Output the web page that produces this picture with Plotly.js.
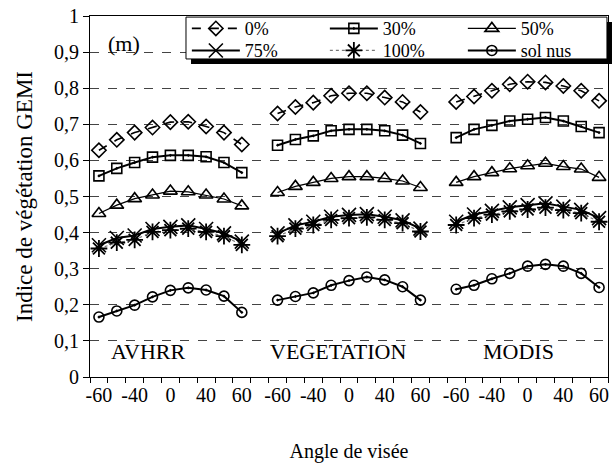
<!DOCTYPE html>
<html>
<head>
<meta charset="utf-8">
<script src="https://cdn.plot.ly/plotly-3.0.1.min.js"></script>
<style>html,body{margin:0;padding:0;background:#fff;}#chart{width:613px;height:470px;}</style>
</head>
<body>
<div id="chart"></div>
<script>
// ---- data ----
const panels = ['AVHRR', 'VEGETATION', 'MODIS'];
const angleLabels = ['-60', '-40', '0', '40', '60']; // shown on every other category
const seriesNames = ['0%', '30%', '50%', '75%', '100%', 'sol nus'];

// values per panel: [AVHRR], [VEGETATION], [MODIS]; 9 viewing angles each
const gemi0 = [
  [0.628, 0.657, 0.677, 0.691, 0.706, 0.707, 0.694, 0.677, 0.644],
  [0.730, 0.748, 0.760, 0.779, 0.786, 0.786, 0.774, 0.762, 0.734],
  [0.762, 0.777, 0.793, 0.811, 0.818, 0.816, 0.806, 0.793, 0.765]
];
const gemi30 = [
  [0.557, 0.578, 0.594, 0.609, 0.614, 0.614, 0.610, 0.594, 0.566],
  [0.642, 0.658, 0.668, 0.682, 0.686, 0.686, 0.682, 0.670, 0.647],
  [0.663, 0.686, 0.697, 0.709, 0.714, 0.719, 0.709, 0.694, 0.677]
];
const gemi50 = [
  [0.453, 0.476, 0.494, 0.504, 0.515, 0.513, 0.504, 0.493, 0.474],
  [0.511, 0.528, 0.539, 0.550, 0.555, 0.555, 0.550, 0.543, 0.525],
  [0.539, 0.555, 0.566, 0.577, 0.585, 0.592, 0.583, 0.576, 0.553]
];
const gemi75 = [
  [0.365, 0.385, 0.392, 0.410, 0.416, 0.420, 0.410, 0.398, 0.375],
  [0.398, 0.420, 0.430, 0.444, 0.449, 0.451, 0.444, 0.434, 0.411],
  [0.430, 0.450, 0.460, 0.470, 0.476, 0.481, 0.472, 0.463, 0.440]
];
const gemi100 = [
  [0.356, 0.372, 0.380, 0.402, 0.407, 0.411, 0.402, 0.390, 0.366],
  [0.390, 0.411, 0.421, 0.435, 0.440, 0.442, 0.435, 0.426, 0.403],
  [0.421, 0.440, 0.450, 0.459, 0.464, 0.469, 0.462, 0.454, 0.430]
];
const gemiSol = [
  [0.166, 0.183, 0.199, 0.222, 0.240, 0.247, 0.241, 0.224, 0.179],
  [0.213, 0.223, 0.233, 0.254, 0.267, 0.277, 0.269, 0.250, 0.213],
  [0.243, 0.254, 0.272, 0.287, 0.307, 0.312, 0.307, 0.287, 0.248]
];

// ---- styles ----
const FONT = 'Liberation Serif';
const styles = [
  {symbol: 'diamond-open', size: 11, line: {color: '#000', width: 1.6, dash: 'dash'}},
  {symbol: 'square-open-dot', size: 10, line: {color: '#000', width: 2}},
  {symbol: 'triangle-up-open', size: 12, line: {color: '#000', width: 1.2}},
  {symbol: 'x-thin-open', size: 14, line: {color: '#000', width: 2}},
  {symbol: 'asterisk-open', size: 14, line: {color: '#777', width: 1.2, dash: 'dot'}},
  {symbol: 'circle-open-dot', size: 10, line: {color: '#000', width: 2}}
];
const allSeries = [gemi0, gemi30, gemi50, gemi75, gemi100, gemiSol];
const nPts = 9;
const slot = nPts + 1; // one empty category between panels

const traces = allSeries.map((ser, s) => {
  const x = [], y = [];
  ser.forEach((vals, p) => {
    vals.forEach((v, i) => { x.push(p * slot + i); y.push(v); });
    if (p < ser.length - 1) { x.push(p * slot + nPts); y.push(null); }
  });
  return {
    type: 'scatter', mode: 'lines+markers', name: seriesNames[s], x, y,
    connectgaps: false, legend: s < 3 ? 'legend' : 'legend2',
    line: styles[s].line,
    marker: {symbol: styles[s].symbol, size: styles[s].size, color: '#000',
             line: {color: '#000', width: s === 4 ? 1.8 : 1.6}}
  };
});

const tickvals = [], ticktext = [];
panels.forEach((_, p) => angleLabels.forEach((lab, k) => { tickvals.push(p * slot + 2 * k); ticktext.push(lab); }));
const nCat = panels.length * slot - 1;

const panelCenters = [2.8, 13.4, 23.5];
const annotations = panels.map((name, p) => ({
  x: panelCenters[p], y: 0.07, xref: 'x', yref: 'y', text: name, showarrow: false,
  font: {family: FONT, size: 22, color: '#000'}
}));
annotations.push({x: 0.03, y: 0.925, xref: 'paper', yref: 'y', text: '(m)', showarrow: false,
  xanchor: 'left', font: {family: FONT, size: 22, color: '#000'}});

// legend frame + drop shadow (paper coordinates)
const legFrame = {x0: 0.1853, x1: 0.998, y0: 0.881, y1: 0.997};
const shapes = [
  {type: 'rect', xref: 'paper', yref: 'paper', layer: 'above',
   x0: legFrame.x0 + 0.0097, x1: legFrame.x1 + 0.0097, y0: legFrame.y0 - 0.0139, y1: legFrame.y1 - 0.0139,
   fillcolor: '#000', line: {width: 0}},
  {type: 'rect', xref: 'paper', yref: 'paper', layer: 'above',
   x0: legFrame.x0, x1: legFrame.x1, y0: legFrame.y0, y1: legFrame.y1,
   fillcolor: '#fff', line: {color: '#000', width: 1}}
];

const legCommon = {
  orientation: 'h', x: 0.187, xanchor: 'left', yanchor: 'top',
  bgcolor: 'rgba(0,0,0,0)', borderwidth: 0,
  font: {family: FONT, size: 18, color: '#000'}, itemwidth: 48, entrywidth: 75, entrywidthmode: 'pixels'
};

const layout = {
  width: 613, height: 470,
  margin: {l: 90, r: 5, t: 16, b: 93},
  paper_bgcolor: '#fff', plot_bgcolor: '#fff',
  font: {family: FONT, size: 20, color: '#000'},
  separators: ', ',
  showlegend: true,
  xaxis: {
    range: [-0.5, nCat - 0.5], tickmode: 'array', tickvals, ticktext,
    ticks: '', showgrid: false, zeroline: false,
    showline: true, linecolor: '#000', linewidth: 1, mirror: true,
    minor: {tickmode: 'linear', tick0: -0.5, dtick: 1, ticks: 'outside', ticklen: 5, tickcolor: '#000', showgrid: false},
    tickfont: {family: FONT, size: 20, color: '#000'},
    title: {text: 'Angle de visée', font: {family: FONT, size: 20, color: '#000'}, standoff: 38}
  },
  yaxis: {
    range: [0, 1], dtick: 0.1, tick0: 0, ticks: 'outside', ticklen: 6, tickcolor: '#000',
    showgrid: true, gridcolor: '#444', griddash: 'dash', gridwidth: 1,
    zeroline: false, showline: true, linecolor: '#000', linewidth: 1, mirror: true,
    tickfont: {family: FONT, size: 20, color: '#000'},
    title: {text: 'Indice de végétation GEMI', font: {family: FONT, size: 23, color: '#000'}, standoff: 14}
  },
  legend: Object.assign({}, legCommon, {y: 1.016}),
  legend2: Object.assign({}, legCommon, {y: 0.955}),
  shapes,
  annotations
};

Plotly.newPlot('chart', traces, layout, {staticPlot: true});
</script>
</body>
</html>
